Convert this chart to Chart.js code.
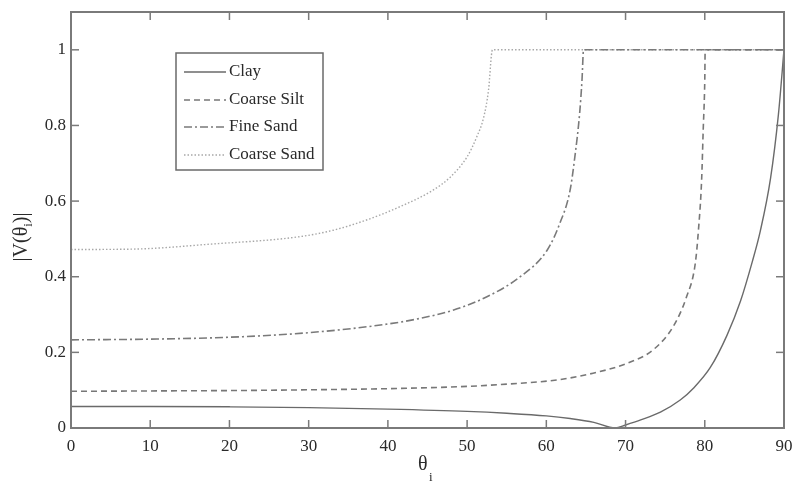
<!DOCTYPE html>
<html><head><meta charset="utf-8">
<script src="https://cdn.jsdelivr.net/npm/chart.js@4.4.1/dist/chart.umd.min.js"></script>
<style>html,body{margin:0;padding:0;background:#fff}#wrap{width:792px;height:491px}</style>
</head><body><div id="wrap"><canvas id="c" width="792" height="491"></canvas></div>
<script>
const seriesNames = ["Clay", "Coarse Silt", "Fine Sand", "Coarse Sand"];
const xTicks = [0,10,20,30,40,50,60,70,80,90];
const yTicks = [0,0.2,0.4,0.6,0.8,1];

const thetaClay = [0,10,20,30,40,50,55,60,63,66,68.7,70,72,74.4,76.9,78.6,80.7,82.8,84.5,86,87,88.3,89.3,90];
const vClay     = [0.057,0.057,0.056,0.054,0.05,0.044,0.039,0.032,0.025,0.015,0.0,0.008,0.022,0.042,0.074,0.106,0.16,0.245,0.335,0.44,0.52,0.66,0.83,1.0];

const thetaSilt = [0,10,20,30,40,50,55,61.7,65.9,70.2,73.5,76,77.7,78.8,79.2,79.6,79.8,80.0,80.05,90];
const vSilt     = [0.097,0.098,0.099,0.101,0.104,0.11,0.116,0.128,0.145,0.171,0.207,0.268,0.347,0.435,0.523,0.655,0.787,0.92,1.0,1.0];

const thetaFine = [0,10,20,30,40,44.1,48.3,52.5,56.7,60.1,61.7,63.0,63.6,64.2,64.5,64.7,90];
const vFine     = [0.233,0.235,0.24,0.252,0.275,0.29,0.312,0.347,0.4,0.47,0.541,0.629,0.717,0.831,0.919,1.0,1.0];

const thetaCoarse = [0,7.8,17.5,28.9,33.1,37.3,41.5,45.7,47.9,50.0,51.2,52.1,52.7,53.2,90];
const vCoarse     = [0.472,0.473,0.486,0.506,0.523,0.55,0.585,0.629,0.664,0.717,0.769,0.822,0.893,1.0,1.0];

function pts(xs, ys){ return xs.map((x,i)=>({x:x, y:ys[i]})); }

const styles = [
  {color:'#6a6a6a', dash:[], width:1.4},
  {color:'#777777', dash:[6,4], width:1.6},
  {color:'#7a7a7a', dash:[8,3,2,3], width:1.6},
  {color:'#a8a8a8', dash:[1.5,2], width:1.4}
];
const allData = [pts(thetaClay,vClay), pts(thetaSilt,vSilt), pts(thetaFine,vFine), pts(thetaCoarse,vCoarse)];

const FONT = '"Liberation Serif", "Times New Roman", serif';
const AXC = '#7a7a7a';

const framePlugin = {
  id:'frame',
  afterDatasetsDraw(chart){
    const {ctx, chartArea:a, scales:{x, y}} = chart;
    ctx.save();
    ctx.strokeStyle = AXC; ctx.lineWidth = 2; ctx.setLineDash([]);
    ctx.strokeRect(a.left, a.top, a.right-a.left, a.bottom-a.top);
    ctx.lineWidth = 1.5;
    const L = 8;
    xTicks.forEach(t=>{
      if (t===0||t===90) return;
      const px = x.getPixelForValue(t);
      ctx.beginPath(); ctx.moveTo(px, a.bottom); ctx.lineTo(px, a.bottom-L); ctx.stroke();
      ctx.beginPath(); ctx.moveTo(px, a.top); ctx.lineTo(px, a.top+L); ctx.stroke();
    });
    yTicks.forEach(t=>{
      if (t===0) return;
      const py = y.getPixelForValue(t);
      ctx.beginPath(); ctx.moveTo(a.left, py); ctx.lineTo(a.left+L, py); ctx.stroke();
      ctx.beginPath(); ctx.moveTo(a.right, py); ctx.lineTo(a.right-L, py); ctx.stroke();
    });
    // legend box
    const bx=176, by=53, bw=147, bh=117;
    ctx.fillStyle='#fff'; ctx.fillRect(bx,by,bw,bh);
    ctx.strokeStyle='#6a6a6a'; ctx.lineWidth=1.5; ctx.strokeRect(bx,by,bw,bh);
    const rows=[72,100,127,155];
    ctx.font = '17px '+FONT; ctx.textBaseline='middle'; ctx.textAlign='left';
    seriesNames.forEach((n,i)=>{
      const s = styles[i];
      ctx.strokeStyle=s.color; ctx.lineWidth=s.width; ctx.setLineDash(s.dash);
      ctx.beginPath(); ctx.moveTo(184, rows[i]); ctx.lineTo(226, rows[i]); ctx.stroke();
      ctx.setLineDash([]);
      ctx.fillStyle='#2a2a2a'; ctx.fillText(n, 229, rows[i]);
    });
    // axis titles
    ctx.fillStyle='#2a2a2a';
    ctx.save();
    ctx.translate(22, 237); ctx.rotate(-Math.PI/2);
    ctx.textBaseline='middle';
    const p1='|V(θ', p3=')|';
    ctx.font='20px '+FONT; const w1=ctx.measureText(p1).width, w3=ctx.measureText(p3).width;
    ctx.font='13px '+FONT; const w2=ctx.measureText('i').width;
    let sx = -(w1+w2+w3)/2;
    ctx.font='20px '+FONT; ctx.textAlign='left'; ctx.fillText(p1, sx, 0); sx+=w1;
    ctx.font='13px '+FONT; ctx.fillText('i', sx, 7); sx+=w2;
    ctx.font='20px '+FONT; ctx.fillText(p3, sx, 0);
    ctx.restore();
    ctx.font='20px '+FONT; ctx.textAlign='left'; ctx.textBaseline='middle';
    ctx.fillText('θ', 418, 465);
    ctx.font='13px '+FONT; ctx.fillText('i', 429, 478);
    ctx.restore();
  }
};

new Chart(document.getElementById('c'), {
  type:'line',
  data:{ datasets: seriesNames.map((n,i)=>({
    label:n, data:allData[i], borderColor:styles[i].color, borderWidth:styles[i].width,
    borderDash:styles[i].dash, pointRadius:0, fill:false, cubicInterpolationMode:'monotone'
  }))},
  options:{
    responsive:false, animation:false, devicePixelRatio:1,
    layout:{padding:{left:0, right:8, top:12, bottom:0}},
    plugins:{legend:{display:false}, tooltip:{enabled:false}},
    scales:{
      x:{type:'linear', min:0, max:90,
        afterFit:s=>{s.height=63; s.paddingLeft=0; s.paddingRight=0;},
        afterBuildTicks:s=>{s.ticks = xTicks.map(v=>({value:v}));},
        grid:{display:false, drawTicks:false}, border:{display:false},
        ticks:{padding:8, color:'#2a2a2a', font:{family:FONT, size:17}, maxRotation:0, callback:v=>String(v)}},
      y:{type:'linear', min:0, max:1.1,
        afterFit:s=>{s.width=71; s.paddingTop=0; s.paddingBottom=0;},
        afterBuildTicks:s=>{s.ticks = yTicks.map(v=>({value:v}));},
        grid:{display:false, drawTicks:false}, border:{display:false},
        ticks:{padding:5, color:'#2a2a2a', font:{family:FONT, size:17}, callback:v=>String(Math.round(v*10)/10)}}
    }
  },
  plugins:[framePlugin]
});
</script></body></html>
